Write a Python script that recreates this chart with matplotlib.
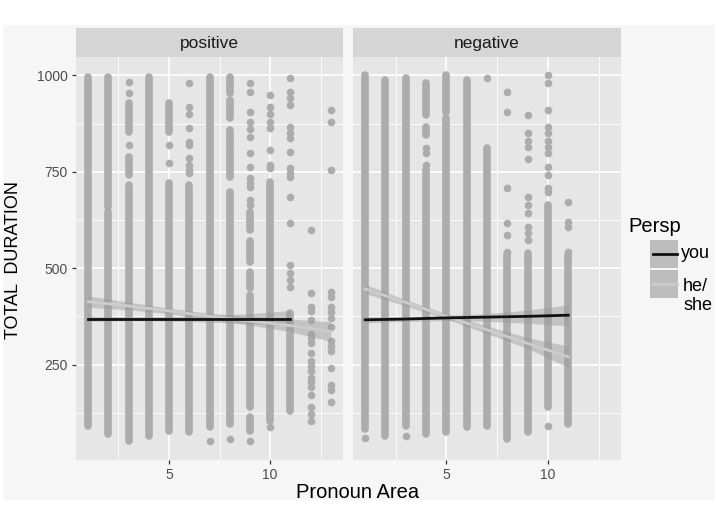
import matplotlib
matplotlib.use("Agg")
from matplotlib import pyplot as plt
from matplotlib.patches import Rectangle
from matplotlib.lines import Line2D

plt.rcParams['font.family'] = ['Liberation Sans', 'DejaVu Sans']

# --- data ----------------------------------------------------------------
# each column: dense runs of overlapping points (lo, hi) + single points
pos_x = [1, 2, 3, 4, 5, 6, 7, 8, 9, 10, 11, 12, 13]
pos_dense = [
    [(90, 995)],
    [(69, 645), (658, 995)],
    [(51, 716), (741, 788), (853, 928)],
    [(64, 995)],
    [(77, 721), (853, 927)],
    [(74, 716)],
    [(87, 995)],
    [(95, 697), (736, 806), (814, 858), (889, 935), (953, 995)],
    [(77, 113), (141, 431), (449, 490), (515, 570), (599, 646)],
    [(103, 723)],
    [(129, 384)],
    [],
    [],
]
pos_points = [
    [],
    [],
    [819, 953, 982],
    [],
    [772, 819],
    [746, 755, 767, 785, 819, 827, 863, 900, 917, 979],
    [51],
    [56],
    [51, 664, 677, 711, 722, 734, 762, 799, 840, 860, 878, 905, 956, 979],
    [87, 760, 767, 806, 863, 878, 900, 917, 948],
    [452, 470, 488, 509, 617, 685, 736, 748, 760, 801, 837, 850, 866, 922, 940, 956, 992],
    [103, 121, 139, 172, 191, 204, 216, 232, 245, 258, 280, 305, 318, 330, 366, 388, 400, 436, 599],
    [154, 185, 198, 242, 284, 297, 310, 348, 372, 385, 398, 426, 439, 754, 879, 909],
]

neg_x = [1, 2, 3, 4, 5, 6, 7, 8, 9, 10, 11]
neg_dense = [
    [(82, 1000)],
    [(64, 987)],
    [(90, 992)],
    [(69, 754), (845, 866), (896, 979)],
    [(74, 889), (904, 1000)],
    [(87, 987)],
    [(90, 811)],
    [(56, 535)],
    [(74, 540)],
    [(139, 664)],
    [(95, 535)],
]
neg_points = [
    [59],
    [],
    [64],
    [767, 798, 811],
    [],
    [],
    [992],
    [542, 586, 617, 708, 904, 956],
    [573, 590, 607, 643, 664, 685, 783, 814, 830, 850, 897],
    [90, 697, 708, 741, 762, 798, 814, 830, 850, 866, 909, 979, 1000],
    [542, 607, 620, 672],
]

# smooth lines (lm) with confidence bands
pos_you_x = [1, 3, 5, 7, 9, 11]
pos_you_fit = [369, 369, 369, 369, 369, 369]
pos_you_lo = [362, 364, 363, 360, 356, 350]
pos_you_hi = [376, 374, 375, 377, 382, 390]
pos_she_x = [1, 3, 5, 7, 9, 11, 13]
pos_she_fit = [413, 402, 389, 375, 363, 351, 336]
pos_she_lo = [398, 392, 382, 367, 352, 335, 310]
pos_she_hi = [428, 412, 396, 383, 375, 368, 361]

neg_you_x = [1, 3, 5, 7, 9, 11]
neg_you_fit = [366, 368, 371, 373, 375, 378]
neg_you_lo = [358, 362, 364, 362, 357, 350]
neg_you_hi = [374, 374, 377, 382, 391, 405]
neg_she_x = [1, 3, 5, 7, 9, 11]
neg_she_fit = [446, 411, 375, 340, 305, 270]
neg_she_lo = [434, 402, 368, 330, 292, 242]
neg_she_hi = [458, 418, 382, 350, 320, 298]

facets = ["positive", "negative"]
legend_labels = ["you", "he/\nshe"]

W, H = 718, 528
pt_col = '#acacac'
you_col = '#111111'
she_col = '#cccccc'


def px(x0, y0, w, h):
    return [x0 / W, 1 - (y0 + h) / H, w / W, h / H]


def draw_panel(ax, xs, dense, points, bands):
    ax.set_facecolor('#e6e6e6')
    for x, runs, pts in zip(xs, dense, points):
        for lo, hi in runs:
            ax.plot([x, x], [lo, hi], color=pt_col, lw=5.5,
                    solid_capstyle='round', zorder=2)
        if pts:
            ax.plot([x] * len(pts), pts, 'o', color=pt_col, ms=5.5,
                    mew=0, zorder=2)
    for bx, fit, lo, hi, col in bands:
        ax.fill_between(bx, lo, hi, color='#999999', alpha=0.45, lw=0, zorder=3)
        ax.plot(bx, fit, color=col, lw=2.0, zorder=4)
    ax.set_xlim(0.4, 13.6)
    ax.set_ylim(2.5, 1047.5)
    ax.set_xticks([5, 10])
    ax.set_xticks([2.5, 7.5, 12.5], minor=True)
    ax.set_yticks([250, 500, 750, 1000])
    ax.set_yticks([125, 375, 625, 875], minor=True)
    ax.grid(which='major', color='white', lw=1.2)
    ax.grid(which='minor', color='white', lw=0.6)
    ax.set_axisbelow(True)
    for s in ax.spines.values():
        s.set_visible(False)
    ax.tick_params(which='minor', length=0)
    ax.tick_params(which='major', length=3, width=0.9, color='#333333',
                   labelcolor='#4d4d4d', labelsize=10, pad=3)


fig = plt.figure(figsize=(W / 100, H / 100), dpi=100)
fig.patch.set_facecolor('white')
fig.patches.append(Rectangle((3 / W, 1 - 500 / H), 712 / W, 475 / H,
                             transform=fig.transFigure, facecolor='#f6f6f6',
                             edgecolor='none', zorder=-10))

ax1 = fig.add_axes(px(76, 57, 267, 403))
ax2 = fig.add_axes(px(353, 57, 268, 403))

draw_panel(ax1, pos_x, pos_dense, pos_points, [
    (pos_she_x, pos_she_fit, pos_she_lo, pos_she_hi, she_col),
    (pos_you_x, pos_you_fit, pos_you_lo, pos_you_hi, you_col),
])
draw_panel(ax2, neg_x, neg_dense, neg_points, [
    (neg_she_x, neg_she_fit, neg_she_lo, neg_she_hi, she_col),
    (neg_you_x, neg_you_fit, neg_you_lo, neg_you_hi, you_col),
])
ax2.tick_params(axis='y', which='both', left=False, labelleft=False)

# facet strips
for left, width, name in [(76, 267, facets[0]), (353, 268, facets[1])]:
    s = fig.add_axes(px(left, 28, width, 29))
    s.set_facecolor('#d5d5d5')
    s.set_xticks([])
    s.set_yticks([])
    for sp in s.spines.values():
        sp.set_visible(False)
    s.text(0.5, 0.48, name, ha='center', va='center', fontsize=12.5,
           color='#1a1a1a', transform=s.transAxes)

fig.text(357.5 / W, 1 - 493 / H, "Pronoun Area", ha='center', va='center',
         fontsize=14.5, color='black')
fig.text(13.5 / W, 1 - 260 / H, "TOTAL  DURATION", ha='center', va='center',
         rotation=90, fontsize=13, color='black')

# legend
fig.text(628 / W, 1 - 226 / H, "Persp", ha='left', va='center', fontsize=14.5)
for i, (lab, col) in enumerate(zip(legend_labels, [you_col, she_col])):
    top = 240 + i * 30
    fig.patches.append(Rectangle((650 / W, 1 - (top + 28) / H), 28 / W, 28 / H,
                                 transform=fig.transFigure, facecolor='#bdbdbd',
                                 edgecolor='none'))
    yc = 1 - (top + 14) / H
    fig.lines.append(Line2D([653 / W, 677 / W], [yc, yc], color=col, lw=2.0,
                            transform=fig.transFigure))
fig.text(681 / W, 1 - 254 / H, legend_labels[0], ha='left', va='center', fontsize=13)
fig.text(683 / W, 1 - 296 / H, legend_labels[1], ha='left', va='center', fontsize=13,
         linespacing=1.1)

plt.savefig('out.png', dpi=100)
